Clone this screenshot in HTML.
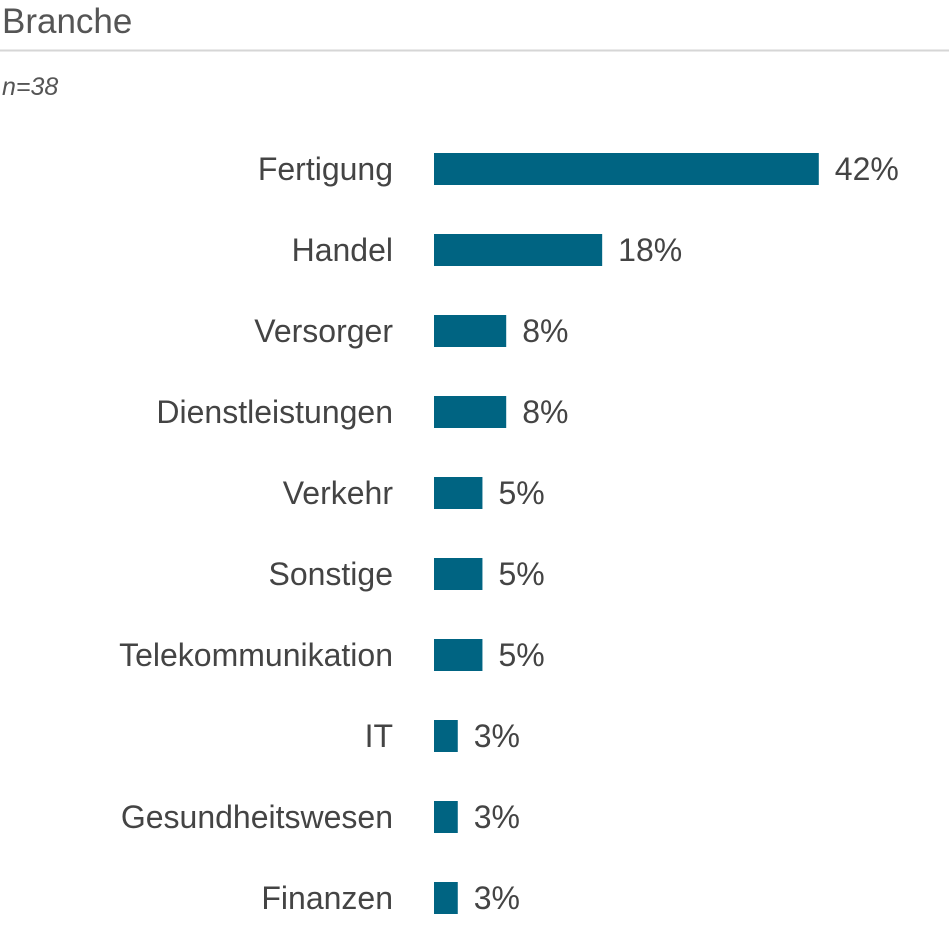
<!DOCTYPE html>
<html><head><meta charset="utf-8"><style>
body{margin:0;background:#fff;width:949px;height:920px;overflow:hidden;font-family:"Liberation Sans",sans-serif;}
</style></head><body>
<svg width="949" height="920" xmlns="http://www.w3.org/2000/svg">
<text x="2" y="33" font-size="35" fill="#555">Branche</text>
<line x1="0" y1="50.5" x2="949" y2="50.5" stroke="#d6d6d6" stroke-width="2"/>
<text x="2" y="95" font-size="25" font-style="italic" fill="#555">n=38</text>
<g id="bars"></g>
</svg>
<script>
const categories=["Fertigung","Handel","Versorger","Dienstleistungen","Verkehr","Sonstige","Telekommunikation","IT","Gesundheitswesen","Finanzen"];
const values=[42.1,18.4,7.9,7.9,5.3,5.3,5.3,2.6,2.6,2.6];
const valueLabels=["42%","18%","8%","8%","5%","5%","5%","3%","3%","3%"];
const x0=434, pxPer=9.14, yTop=169, step=81, bh=32;
const xs=v=>x0+v*pxPer;
const ys=i=>yTop+i*step;
const g=document.getElementById('bars');
const NS="http://www.w3.org/2000/svg";
categories.forEach((c,i)=>{
  const cy=ys(i);
  const t=document.createElementNS(NS,'text');
  t.setAttribute('x',393);t.setAttribute('y',cy+11);t.setAttribute('text-anchor','end');
  t.setAttribute('font-size','32');t.setAttribute('fill','#444');t.textContent=c;
  
  
  g.appendChild(t);
  const r=document.createElementNS(NS,'rect');
  r.setAttribute('x',x0);r.setAttribute('y',cy-bh/2);r.setAttribute('width',xs(values[i])-x0);r.setAttribute('height',bh);
  r.setAttribute('fill','#006482');
  
  
  g.appendChild(r);
  const v=document.createElementNS(NS,'text');
  v.setAttribute('x',xs(values[i])+16);v.setAttribute('y',cy+11);
  v.setAttribute('font-size','32');v.setAttribute('fill','#444');v.textContent=valueLabels[i];
  
  
  g.appendChild(v);
});
</script>
</body></html>
